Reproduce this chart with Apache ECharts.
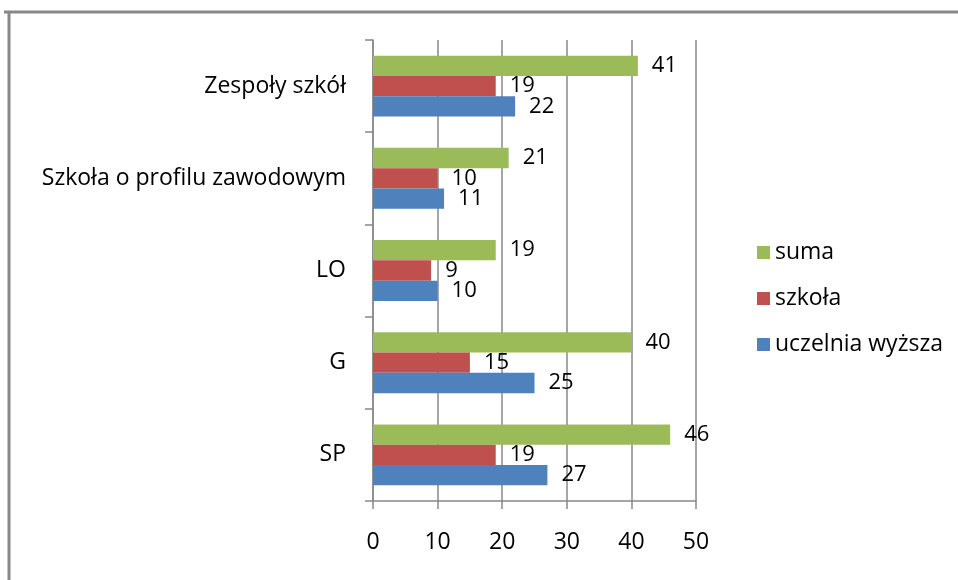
<!DOCTYPE html>
<html>
<head>
<meta charset="utf-8">
<script src="https://cdn.jsdelivr.net/npm/echarts@6/dist/echarts.min.js"></script>
<style>
  html, body { margin: 0; padding: 0; background: #fff; }
  #chart { width: 958px; height: 580px; }
</style>
</head>
<body>
<div id="chart"></div>
<script>
// kategorie od dołu do góry
const categories = ['SP', 'G', 'LO', 'Szkoła o profilu zawodowym', 'Zespoły szkół'];
const uczelnia = [27, 25, 10, 11, 22];
const szkola = [19, 15, 9, 10, 19];
const suma = [46, 40, 19, 21, 41];
const xTicks = [0, 10, 20, 30, 40, 50];

const chart = echarts.init(document.getElementById('chart'));
const font = 'Open Sans, Liberation Sans, sans-serif';

const label = {
  show: true,
  position: 'right',
  distance: 14,
  color: '#000',
  fontSize: 22,
  fontFamily: font
};

chart.setOption({
  backgroundColor: '#fff',
  animation: false,
  grid: { left: 373, right: 262, top: 40, bottom: 79 },
  legend: {
    orient: 'vertical',
    left: 752,
    top: 236,
    itemWidth: 13,
    itemHeight: 13,
    itemGap: 23,
    icon: 'rect',
    data: ['suma', 'szkoła', 'uczelnia wyższa'],
    textStyle: { fontSize: 23, color: '#000', fontFamily: font }
  },
  xAxis: {
    type: 'value',
    min: xTicks[0],
    max: xTicks[xTicks.length - 1],
    interval: 10,
    axisLine: { show: true, lineStyle: { color: '#888', width: 1.5 } },
    axisTick: { show: true, length: 8, lineStyle: { color: '#888', width: 1.5 } },
    axisLabel: { color: '#000', fontSize: 23, margin: 30, fontFamily: font },
    splitLine: { show: true, lineStyle: { color: '#888', width: 1.5 } }
  },
  yAxis: {
    type: 'category',
    data: categories,
    axisLine: { show: true, lineStyle: { color: '#888', width: 1.5 } },
    axisTick: { show: true, length: 8, lineStyle: { color: '#888', width: 1.5 } },
    axisLabel: { color: '#000', fontSize: 23, margin: 27, fontFamily: font }
  },
  series: [
    {
      name: 'suma', type: 'bar', data: suma,
      barGap: '0%', barCategoryGap: '34%',
      itemStyle: { color: '#9BBB59' }, label: label
    },
    {
      name: 'szkoła', type: 'bar', data: szkola,
      barGap: '0%', barCategoryGap: '34%',
      itemStyle: { color: '#C0504D' }, label: label
    },
    {
      name: 'uczelnia wyższa', type: 'bar', data: uczelnia,
      barGap: '0%', barCategoryGap: '34%',
      itemStyle: { color: '#4F81BD' }, label: label
    }
  ],
  graphic: [
    { type: 'line', shape: { x1: 4, y1: 12, x2: 958, y2: 12 }, style: { stroke: '#888', lineWidth: 3 } },
    { type: 'line', shape: { x1: 9, y1: 12, x2: 9, y2: 580 }, style: { stroke: '#888', lineWidth: 3 } }
  ]
});
</script>
</body>
</html>
